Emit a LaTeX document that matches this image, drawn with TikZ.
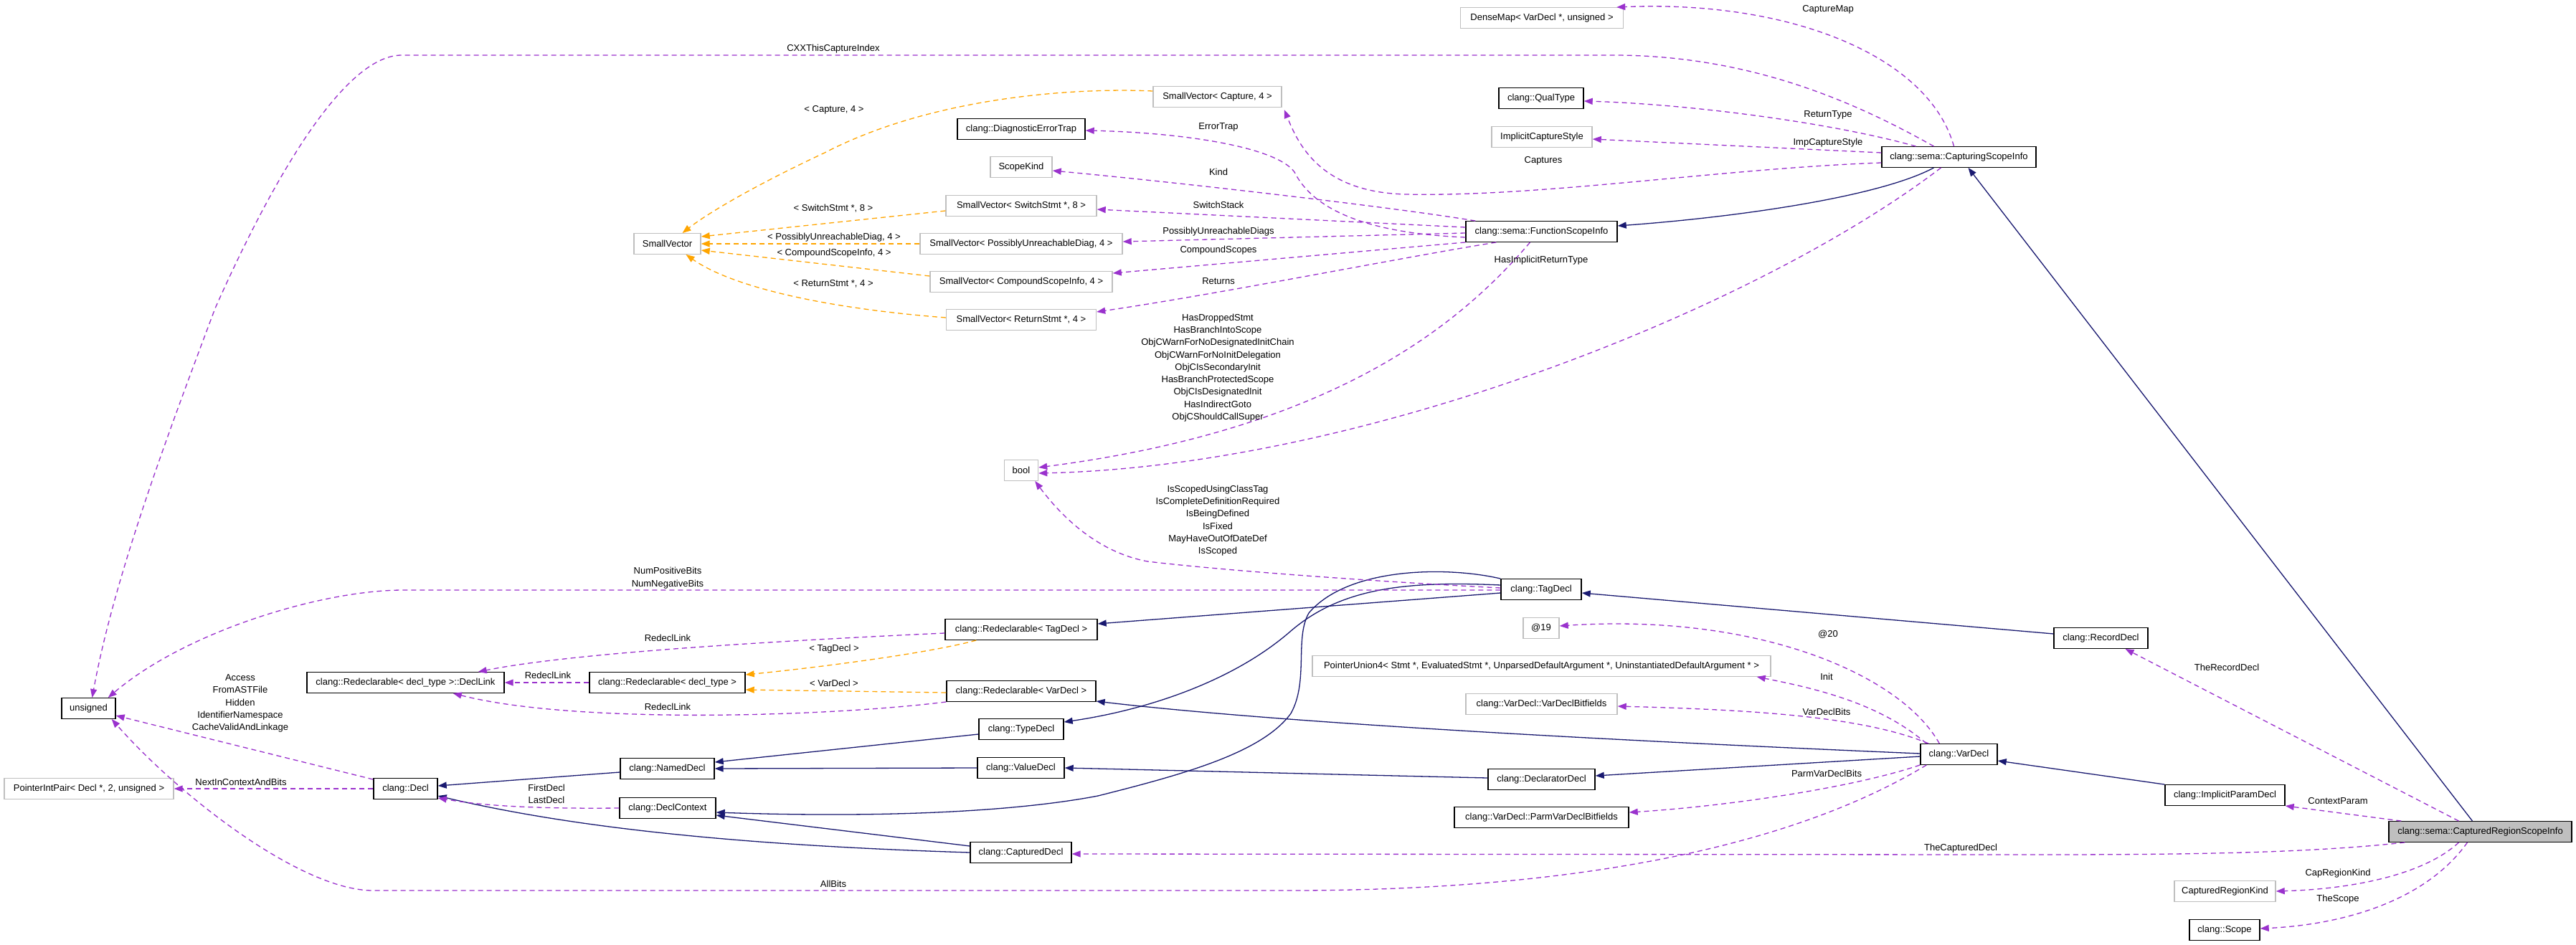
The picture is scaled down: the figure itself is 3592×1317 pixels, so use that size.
\documentclass[tikz,border=0pt]{standalone}
\usepackage{fontspec}
\setmainfont{Liberation Sans}
\usetikzlibrary{arrows.meta}
\definecolor{navyc}{HTML}{191970}
\definecolor{orch}{HTML}{9A32CD}
\definecolor{orng}{HTML}{FFA500}
\definecolor{gb}{HTML}{BFBFBF}
\tikzset{
  cls/.style={draw=black, line width=1.4pt, fill=white, minimum height=28.5pt, inner xsep=2pt, inner ysep=0pt, font=\fontsize{13}{17.3}\selectfont},
  ucls/.style={cls, draw=gb},
  hcls/.style={cls, fill=gb},
  tipa/.style={-{Triangle[length=12pt,width=9pt]}},
  inh/.style={draw=navyc, line width=1.3pt, tipa},
  tmpl/.style={draw=orng, line width=1.3pt, dash pattern=on 7pt off 5pt, tipa},
  usee/.style={draw=orch, line width=1.3pt, dash pattern=on 7pt off 5pt, tipa},
  lbl/.style={font=\fontsize{13}{17.3}\selectfont, align=center, inner sep=0pt}
}
\begin{document}
\begin{tikzpicture}[x=1pt,y=-1pt]
\fill[white] (0,0) rectangle (3592,1317);
\useasboundingbox (0,0) rectangle (3592,1317);

% nodes
\node[ucls,minimum width=93pt] (smallvec) at (930.5,340) {SmallVector};
\node[ucls,minimum width=179pt] (svcap) at (1697.5,135) {SmallVector< Capture, 4 >};
\node[cls,minimum width=178pt] (diag) at (1424,180) {clang::DiagnosticErrorTrap};
\node[ucls,minimum width=86pt] (scopekind) at (1424,233) {ScopeKind};
\node[ucls,minimum width=210pt] (svswitch) at (1424,287) {SmallVector< SwitchStmt *, 8 >};
\node[ucls,minimum width=282pt] (svpud) at (1424,340) {SmallVector< PossiblyUnreachableDiag, 4 >};
\node[ucls,minimum width=254pt] (svcsi) at (1424,393) {SmallVector< CompoundScopeInfo, 4 >};
\node[ucls,minimum width=209pt] (svret) at (1424,446) {SmallVector< ReturnStmt *, 4 >};
\node[ucls,minimum width=227pt] (densemap) at (2150,25) {DenseMap< VarDecl *, unsigned >};
\node[cls,minimum width=118pt] (qualtype) at (2149,137) {clang::QualType};
\node[ucls,minimum width=140pt] (ics) at (2150,191) {ImplicitCaptureStyle};
\node[cls,minimum width=211pt] (fsi) at (2149.5,323) {clang::sema::FunctionScopeInfo};
\node[cls,minimum width=215pt] (csi) at (2731.5,219) {clang::sema::CapturingScopeInfo};
\node[ucls,minimum width=47pt] (bool) at (1424,656) {bool};
\node[cls,minimum width=75pt] (unsigned) at (123.5,988) {unsigned};
\node[ucls,minimum width=236pt] (pip) at (124,1100) {PointerIntPair< Decl *, 2, unsigned >};
\node[cls,minimum width=89pt] (decl) at (565.5,1100) {clang::Decl};
\node[cls,minimum width=275pt] (decllink) at (565.5,952) {clang::Redeclarable< decl\_type >::DeclLink};
\node[cls,minimum width=217pt] (redecl) at (930.5,952) {clang::Redeclarable< decl\_type >};
\node[cls,minimum width=131pt] (nameddecl) at (930.5,1072) {clang::NamedDecl};
\node[cls,minimum width=134pt] (declctx) at (931,1127) {clang::DeclContext};
\node[cls,minimum width=212pt] (redecltag) at (1424,878) {clang::Redeclarable< TagDecl >};
\node[cls,minimum width=208pt] (redeclvar) at (1424,964) {clang::Redeclarable< VarDecl >};
\node[cls,minimum width=118pt] (typedecl) at (1424,1017) {clang::TypeDecl};
\node[cls,minimum width=121pt] (valuedecl) at (1423.5,1071) {clang::ValueDecl};
\node[cls,minimum width=141pt] (captureddecl) at (1423.5,1189) {clang::CapturedDecl};
\node[cls,minimum width=112pt] (tagdecl) at (2149,822) {clang::TagDecl};
\node[ucls,minimum width=50pt] (at19) at (2149,876) {@19};
\node[ucls,minimum width=639pt] (pu4) at (2149.5,929) {PointerUnion4< Stmt *, EvaluatedStmt *, UnparsedDefaultArgument *, UninstantiatedDefaultArgument * >};
\node[ucls,minimum width=211pt] (vdbf) at (2149.5,982) {clang::VarDecl::VarDeclBitfields};
\node[cls,minimum width=149pt] (declarator) at (2149.5,1087) {clang::DeclaratorDecl};
\node[cls,minimum width=243pt] (pvdbf) at (2149.5,1140) {clang::VarDecl::ParmVarDeclBitfields};
\node[cls,minimum width=107pt] (vardecl) at (2731.5,1052) {clang::VarDecl};
\node[cls,minimum width=131pt] (recorddecl) at (2929.5,890) {clang::RecordDecl};
\node[cls,minimum width=167pt] (ipd) at (3102.5,1109) {clang::ImplicitParamDecl};
\node[hcls,minimum width=255pt] (crsi) at (3458.5,1160) {clang::sema::CapturedRegionScopeInfo};
\node[ucls,minimum width=141pt] (crk) at (3102.5,1243) {CapturedRegionKind};
\node[cls,minimum width=98pt] (scope) at (3102,1297) {clang::Scope};

% inheritance
\draw[inh] ([xshift=-11pt]crsi.north) -- ([xshift=13pt]csi.south);
\draw[inh] ([xshift=-35pt]csi.south) .. controls (2620,275) and (2420,303) .. ([yshift=8pt]fsi.east);
\draw[inh] ([yshift=6pt]recorddecl.west) -- ([yshift=-5pt]tagdecl.east);
\draw[inh] ([yshift=-5pt]tagdecl.west) -- ([yshift=8pt]redecltag.east);
\draw[inh] ([yshift=6pt]tagdecl.west) .. controls (1960,810) and (1870,820) .. (1800,880) .. controls (1720,950) and (1600,990) .. ([yshift=10pt]typedecl.east);
\draw[inh] (tagdecl.north west) .. controls (2020,790) and (1880,790) .. (1825,855) .. controls (1805,890) and (1825,950) .. (1800,995) .. controls (1760,1050) and (1650,1080) .. (1531,1110) .. controls (1400,1135) and (1200,1140) .. ([yshift=-6pt]declctx.east);
\draw[inh] ([yshift=-7pt]typedecl.west) -- ([yshift=9pt]nameddecl.east);
\draw[inh] (valuedecl.west) -- (nameddecl.east);
\draw[inh] ([yshift=-5pt]nameddecl.west) -- ([yshift=4pt]decl.east);
\draw[inh] (captureddecl.west) .. controls (1000,1178) and (780,1150) .. ([yshift=-10pt]decl.east);
\draw[inh] ([yshift=9pt]captureddecl.west) -- ([yshift=-10pt]declctx.east);
\draw[inh] ([yshift=-3pt]vardecl.west) -- ([yshift=5pt]declarator.east);
\draw[inh] ([yshift=2pt]declarator.west) .. controls (1900,1081) and (1700,1076) .. (valuedecl.east);
\draw[inh] ([yshift=1pt]vardecl.west) .. controls (2300,1035) and (1800,1010) .. ([yshift=-14pt]redeclvar.east);
\draw[inh] (ipd.north west) -- ([yshift=-9pt]vardecl.east);

% template instances
\draw[tmpl] ([yshift=8pt]svcap.west) .. controls (1500,122) and (1300,135) .. (1150,213) .. controls (1060,255) and (990,295) .. ([xshift=21pt]smallvec.north);
\draw[tmpl] ([yshift=-7pt]svswitch.west) -- ([yshift=10pt]smallvec.east);
\draw[tmpl] (svpud.west) -- (smallvec.east);
\draw[tmpl] ([yshift=8pt]svcsi.west) -- ([yshift=-9pt]smallvec.east);
\draw[tmpl] ([yshift=3pt]svret.west) .. controls (1150,430) and (1020,400) .. ([xshift=26pt]smallvec.south);
\draw[tmpl] ([xshift=44pt]redecltag.south west) .. controls (1300,910) and (1150,930) .. ([yshift=11pt]redecl.east);
\draw[tmpl] ([yshift=-2pt]redeclvar.west) -- ([yshift=-10pt]redecl.east);

% usage
\draw[usee] ([xshift=-35pt]csi.north) .. controls (2600,150) and (2450,77) .. (2250,77) -- (560,77) .. controls (480,77) and (380,250) .. (300,430) .. controls (240,590) and (160,800) .. ([xshift=5pt]unsigned.north);
\draw[usee] ([xshift=-7pt]csi.north) .. controls (2690,80) and (2500,0) .. ([xshift=-10pt]densemap.north east);
\draw[usee] ([xshift=-60pt]csi.north) .. controls (2550,170) and (2350,145) .. ([yshift=-4pt]qualtype.east);
\draw[usee] ([yshift=6pt]csi.west) -- ([yshift=-3pt]ics.east);
\draw[usee] ([yshift=-8pt]csi.west) .. controls (2400,235) and (2150,275) .. (1960,271) .. controls (1840,268) and (1810,200) .. ([xshift=3pt,yshift=-3pt]svcap.south east);
\draw[usee] ([yshift=-8pt]fsi.west) .. controls (1900,325) and (1830,290) .. (1805,240) .. controls (1780,205) and (1650,185) .. ([yshift=-2pt]diag.east);
\draw[usee] ([xshift=14pt]fsi.north west) .. controls (1950,290) and (1650,255) .. ([yshift=-5pt]scopekind.east);
\draw[usee] ([yshift=6pt]fsi.west) -- ([yshift=-5pt]svswitch.east);
\draw[usee] ([yshift=-2pt]fsi.west) -- ([yshift=3pt]svpud.east);
\draw[usee] (fsi.south west) -- ([yshift=12pt]svcsi.east);
\draw[usee] ([xshift=43pt]fsi.south west) .. controls (1950,360) and (1700,410) .. ([yshift=11pt]svret.east);
\draw[usee] ([xshift=-16pt]fsi.south) .. controls (2030,460) and (1850,600) .. ([yshift=4pt]bool.east);
\draw[usee] ([xshift=-25pt]csi.south) .. controls (2450,430) and (1900,650) .. ([yshift=-4pt]bool.east);
\draw[usee] ([yshift=2pt]tagdecl.west) .. controls (1900,810) and (1700,795) .. (1600,783) .. controls (1530,770) and (1480,720) .. ([xshift=-5pt]bool.south east);
\draw[usee] ([yshift=-1pt]tagdecl.west) -- (562,823) .. controls (450,823) and (260,880) .. ([xshift=-11pt]unsigned.north east);
\draw[usee] ([xshift=27pt]vardecl.north west) .. controls (2650,940) and (2450,855) .. ([yshift=3pt]at19.east);
\draw[usee] ([xshift=9pt]vardecl.north west) .. controls (2620,980) and (2530,960) .. ([xshift=-20pt]pu4.south east);
\draw[usee] ([xshift=12pt]vardecl.north west) .. controls (2600,1000) and (2450,990) .. ([yshift=-3pt]vdbf.east);
\draw[usee] (vardecl.south west) .. controls (2580,1100) and (2400,1125) .. ([yshift=7pt]pvdbf.east);
\draw[usee] ([xshift=9pt]vardecl.south west) .. controls (2500,1180) and (2200,1242) .. (1800,1242) -- (520,1242) .. controls (420,1242) and (250,1110) .. ([xshift=-6pt]unsigned.south east);
\draw[usee] ([yshift=-2pt]decl.north west) -- ([yshift=-10pt]unsigned.east);
\draw[usee] (decl.west) -- (pip.east);
\draw[usee] (redecl.west) -- (decllink.east);
\draw[usee] ([yshift=-5pt]redecltag.west) .. controls (1100,893) and (800,910) .. ([xshift=-37pt]decllink.north east);
\draw[usee] (redeclvar.south west) .. controls (1150,1000) and (800,1010) .. ([xshift=-72pt]decllink.south east);
\draw[usee] (declctx.west) .. controls (760,1128) and (680,1125) .. ([yshift=2pt]decl.south east);
\draw[usee] ([xshift=23pt]crsi.south west) .. controls (3200,1192) and (3000,1192) .. (2800,1192) -- ([yshift=-2pt]captureddecl.east);
\draw[usee] ([xshift=-30pt]crsi.north) -- ([xshift=34pt]recorddecl.south);
\draw[usee] ([xshift=18pt]crsi.north west) -- (ipd.south east);
\draw[usee] ([xshift=-30pt]crsi.south) .. controls (3380,1220) and (3280,1240) .. (crk.east);
\draw[usee] ([xshift=-18pt]crsi.south) .. controls (3380,1260) and (3260,1290) .. ([yshift=2pt]scope.east);

% labels
\node[lbl] (l1) at (1162,68) {CXXThisCaptureIndex};
\node[lbl] (l2) at (1163,153) {< Capture, 4 >};
\node[lbl] (l3) at (1699,177) {ErrorTrap};
\node[lbl] (l4) at (1699,240) {Kind};
\node[lbl] (l5) at (1162,291) {< SwitchStmt *, 8 >};
\node[lbl] (l6) at (1699,286) {SwitchStack};
\node[lbl] (l7) at (1699,323) {PossiblyUnreachableDiags};
\node[lbl] (l8) at (1163,331) {< PossiblyUnreachableDiag, 4 >};
\node[lbl] (l9) at (1163,353) {< CompoundScopeInfo, 4 >};
\node[lbl] (l10) at (1699,349) {CompoundScopes};
\node[lbl] (l11) at (1162,396) {< ReturnStmt *, 4 >};
\node[lbl] (l12) at (1699,392) {Returns};
\node[lbl] (l13) at (2549,13) {CaptureMap};
\node[lbl] (l14) at (2549,160) {ReturnType};
\node[lbl] (l15) at (2549,199) {ImpCaptureStyle};
\node[lbl] (l16) at (2152,224) {Captures};
\node[lbl] (l17) at (2149,363) {HasImplicitReturnType};
\node[lbl] (l18) at (1698,513) {HasDroppedStmt\\HasBranchIntoScope\\ObjCWarnForNoDesignatedInitChain\\ObjCWarnForNoInitDelegation\\ObjCIsSecondaryInit\\HasBranchProtectedScope\\ObjCIsDesignatedInit\\HasIndirectGoto\\ObjCShouldCallSuper};
\node[lbl] (l19) at (1698,726) {IsScopedUsingClassTag\\IsCompleteDefinitionRequired\\IsBeingDefined\\IsFixed\\MayHaveOutOfDateDef\\IsScoped};
\node[lbl] (l20) at (931,806) {NumPositiveBits\\NumNegativeBits};
\node[lbl] (l21) at (931,890) {RedeclLink};
\node[lbl] (l22) at (1163,905) {< TagDecl >};
\node[lbl] (l23) at (764,942) {RedeclLink};
\node[lbl] (l24) at (1163,953) {< VarDecl >};
\node[lbl] (l25) at (931,986) {RedeclLink};
\node[lbl] (l26) at (335,981) {Access\\FromASTFile\\Hidden\\IdentifierNamespace\\CacheValidAndLinkage};
\node[lbl] (l27) at (336,1091) {NextInContextAndBits};
\node[lbl] (l28) at (762,1107) {FirstDecl\\LastDecl};
\node[lbl] (l29) at (1162,1233) {AllBits};
\node[lbl] (l30) at (2549,885) {@20};
\node[lbl] (l31) at (2547,944) {Init};
\node[lbl] (l32) at (2547,993) {VarDeclBits};
\node[lbl] (l33) at (2547,1079) {ParmVarDeclBits};
\node[lbl] (l34) at (2734,1183) {TheCapturedDecl};
\node[lbl] (l35) at (3105,931) {TheRecordDecl};
\node[lbl] (l36) at (3260,1117) {ContextParam};
\node[lbl] (l37) at (3260,1218) {CapRegionKind};
\node[lbl] (l38) at (3260,1254) {TheScope};
\end{tikzpicture}
\end{document}
